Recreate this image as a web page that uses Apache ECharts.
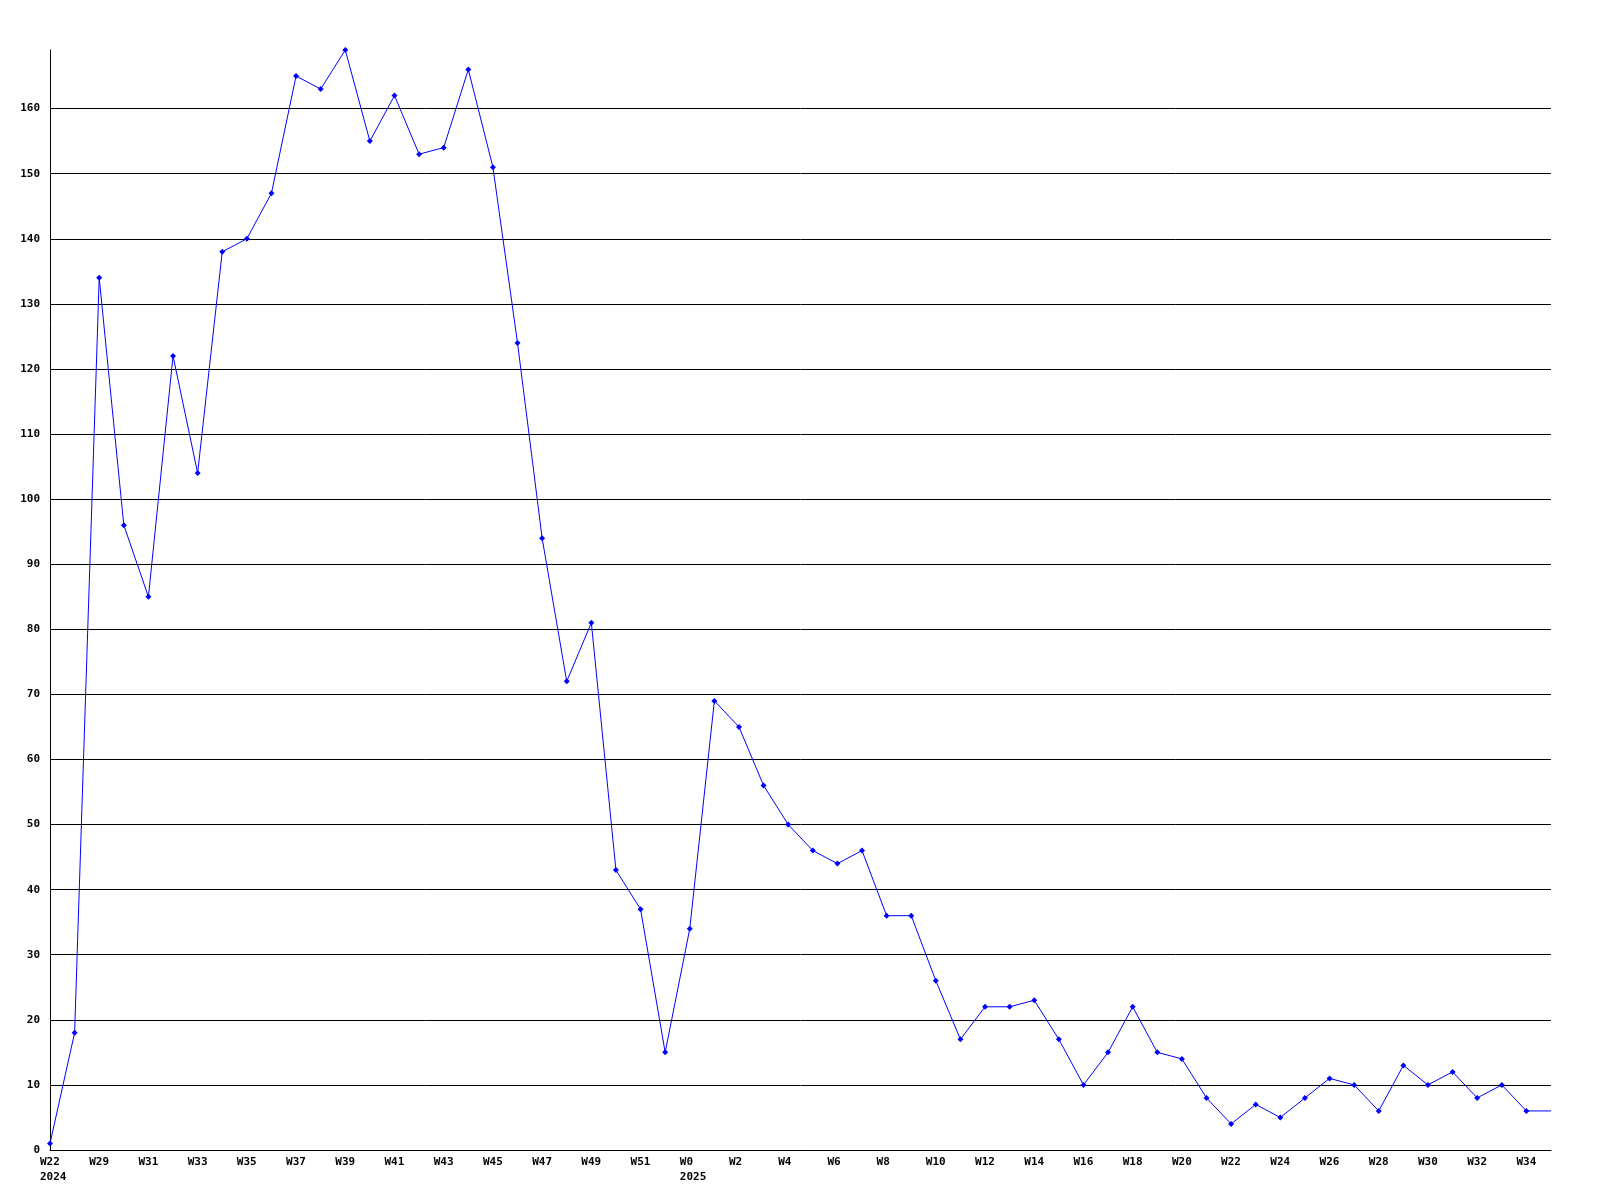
<!DOCTYPE html>
<html>
<head>
<meta charset="utf-8">
<script src="https://cdn.jsdelivr.net/npm/echarts@6/dist/echarts.min.js"></script>
<style>
html,body{margin:0;padding:0;background:#fff;}
#chart{width:1600px;height:1200px;}
</style>
</head>
<body>
<div id="chart"></div>
<script>
// Week categories (2024: W22, W28..W52; 2025: W0..W35)
var weeks = ['W22','W28','W29','W30','W31','W32','W33','W34','W35','W36','W37','W38','W39','W40','W41','W42','W43','W44','W45','W46','W47','W48','W49','W50','W51','W52',
  'W0','W1','W2','W3','W4','W5','W6','W7','W8','W9','W10','W11','W12','W13','W14','W15','W16','W17','W18','W19','W20','W21','W22','W23','W24','W25','W26','W27','W28','W29','W30','W31','W32','W33','W34','W35'];
// Year shown under first week of each year (index in weeks)
var yearIndex = [0, 26];
var yearLabels = ['2024', '2025'];
var values = [1,18,134,96,85,122,104,138,140,147,165,163,169,155,162,153,154,166,151,124,94,72,81,43,37,15,
  34,69,65,56,50,46,44,46,36,36,26,17,22,22,23,17,10,15,22,15,14,8,4,7,5,8,11,10,6,13,10,12,8,10,6,6];
var yTicks = {min: 0, max: 169, interval: 10};

var seriesData = values.map(function (v, i) {
  return i === values.length - 1 ? {value: v, symbol: 'none'} : v;
});

var chart = echarts.init(document.getElementById('chart'), null, {renderer: 'canvas'});
var font = '"DejaVu Sans Mono", monospace';
chart.setOption({
  animation: false,
  backgroundColor: '#ffffff',
  grid: {left: 50, right: 49, top: 50, bottom: 50, containLabel: false},
  xAxis: {
    type: 'category',
    data: weeks,
    boundaryGap: false,
    axisLine: {show: true, lineStyle: {color: '#000', width: 1}},
    axisTick: {show: false},
    splitLine: {show: false},
    axisLabel: {
      interval: 1,
      margin: 5,
      align: 'right',
      formatter: function (val, idx) {
        var k = yearIndex.indexOf(idx);
        if (k >= 0) return '{a|' + val + '}\n{a|' + yearLabels[k] + '}';
        return '{a|' + val + '}';
      },
      rich: {
        a: {width: 10, align: 'left', fontFamily: font, fontWeight: 'bold', fontSize: 11, color: '#000', lineHeight: 15}
      }
    }
  },
  yAxis: {
    type: 'value',
    min: yTicks.min,
    max: yTicks.max,
    interval: yTicks.interval,
    axisLine: {show: true, lineStyle: {color: '#000', width: 1}},
    axisTick: {show: false},
    splitLine: {show: true, showMaxLine: false, lineStyle: {color: '#000', width: 1}},
    axisLabel: {
      showMaxLabel: false,
      margin: 10,
      fontFamily: font,
      fontWeight: 'bold',
      fontSize: 11,
      color: '#000'
    }
  },
  series: [{
    type: 'line',
    data: seriesData,
    symbol: 'diamond',
    symbolSize: 6,
    showAllSymbol: true,
    lineStyle: {color: '#0000ff', width: 1},
    itemStyle: {color: '#0000ff'},
    emphasis: {disabled: true}
  }]
});
</script>
</body>
</html>
